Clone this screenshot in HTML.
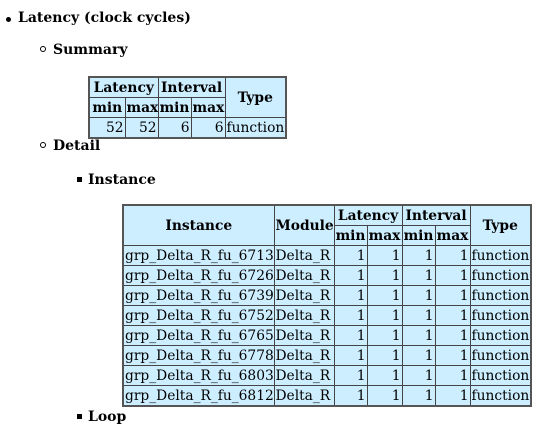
<!DOCTYPE html>
<html><head><style>
body{margin:0;width:549px;height:431px;background:#fff;font-family:"DejaVu Serif","Liberation Serif",serif;color:#000;position:relative;overflow:hidden}
.h{position:absolute;font-weight:bold;font-size:14px;line-height:16px;white-space:nowrap}
.b{position:absolute}
table{position:absolute;border-collapse:collapse;table-layout:fixed;font-size:13.8px;border:2px solid #555}
td,th{border:1px solid #444;background:#cdeeff;padding:0 1px;height:19px;line-height:18px;white-space:nowrap;overflow:hidden}
th{font-weight:bold;text-align:center}
td.n{text-align:right}
td{text-align:left}
</style></head><body>
<div class="b" style="left:6px;top:17px;width:5px;height:5px;border-radius:50%;background:#000"></div>
<div class="h" style="left:18px;top:10px">Latency (clock cycles)</div>
<div class="b" style="left:40px;top:46px;width:4px;height:4px;border-radius:50%;border:1px solid #000"></div>
<div class="h" style="left:53px;top:42px">Summary</div>
<table style="left:88px;top:76px;width:197px">
<colgroup><col style="width:36px"><col style="width:33px"><col style="width:33px"><col style="width:34px"><col style="width:61px"></colgroup>
<tr><th colspan="2">Latency</th><th colspan="2">Interval</th><th rowspan="2">Type</th></tr>
<tr><th>min</th><th>max</th><th>min</th><th>max</th></tr>
<tr><td class="n">52</td><td class="n">52</td><td class="n">6</td><td class="n">6</td><td>function</td></tr>
</table>
<div class="b" style="left:40px;top:142px;width:4px;height:4px;border-radius:50%;border:1px solid #000"></div>
<div class="h" style="left:53px;top:138px">Detail</div>
<div class="b" style="left:77px;top:177px;width:5px;height:5px;background:#000"></div>
<div class="h" style="left:88px;top:172px">Instance</div>
<table style="left:122px;top:204px;width:408px">
<colgroup><col style="width:151px"><col style="width:60px"><col style="width:33px"><col style="width:35px"><col style="width:33px"><col style="width:35px"><col style="width:61px"></colgroup>
<tr><th rowspan="2">Instance</th><th rowspan="2">Module</th><th colspan="2">Latency</th><th colspan="2">Interval</th><th rowspan="2">Type</th></tr>
<tr><th>min</th><th>max</th><th>min</th><th>max</th></tr>
<tr><td>grp_Delta_R_fu_6713</td><td>Delta_R</td><td class="n">1</td><td class="n">1</td><td class="n">1</td><td class="n">1</td><td>function</td></tr>
<tr><td>grp_Delta_R_fu_6726</td><td>Delta_R</td><td class="n">1</td><td class="n">1</td><td class="n">1</td><td class="n">1</td><td>function</td></tr>
<tr><td>grp_Delta_R_fu_6739</td><td>Delta_R</td><td class="n">1</td><td class="n">1</td><td class="n">1</td><td class="n">1</td><td>function</td></tr>
<tr><td>grp_Delta_R_fu_6752</td><td>Delta_R</td><td class="n">1</td><td class="n">1</td><td class="n">1</td><td class="n">1</td><td>function</td></tr>
<tr><td>grp_Delta_R_fu_6765</td><td>Delta_R</td><td class="n">1</td><td class="n">1</td><td class="n">1</td><td class="n">1</td><td>function</td></tr>
<tr><td>grp_Delta_R_fu_6778</td><td>Delta_R</td><td class="n">1</td><td class="n">1</td><td class="n">1</td><td class="n">1</td><td>function</td></tr>
<tr><td>grp_Delta_R_fu_6803</td><td>Delta_R</td><td class="n">1</td><td class="n">1</td><td class="n">1</td><td class="n">1</td><td>function</td></tr>
<tr><td>grp_Delta_R_fu_6812</td><td>Delta_R</td><td class="n">1</td><td class="n">1</td><td class="n">1</td><td class="n">1</td><td>function</td></tr>
</table>
<div class="b" style="left:77px;top:414px;width:5px;height:5px;background:#000"></div>
<div class="h" style="left:88px;top:409px">Loop</div>
</body></html>
